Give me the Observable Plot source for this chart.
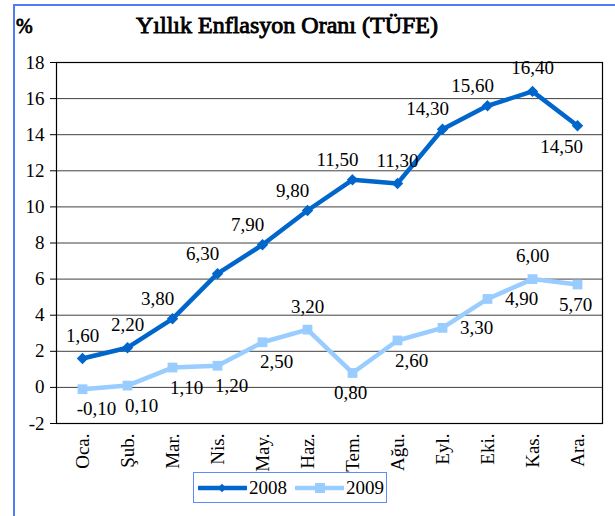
<!DOCTYPE html>
<html><head><meta charset="utf-8">
<script src="https://cdn.jsdelivr.net/npm/d3@7"></script>
<script src="https://cdn.jsdelivr.net/npm/@observablehq/plot@0.6"></script>
<style>
body{margin:0;background:#fff;}
#wrap{position:relative;width:615px;height:516px;overflow:hidden;font-family:"Liberation Serif",serif;color:#000;}
#border{position:absolute;left:13px;top:4px;width:800px;height:800px;border-left:2px solid #4d7df7;border-top:2px solid #4d7df7;}
#title{position:absolute;left:287px;top:13px;transform:translateX(-50%);font-family:"Liberation Serif",serif;font-weight:400;-webkit-text-stroke:0.9px #000;font-size:24px;line-height:24px;white-space:nowrap;}
#pct{position:absolute;left:16px;top:16px;font-family:"Liberation Serif",serif;font-weight:400;-webkit-text-stroke:0.8px #000;font-size:20px;line-height:20px;}
#chart{position:absolute;left:0;top:0;}
#legend{position:absolute;left:193px;top:472px;width:192px;height:29px;border:1px solid #5b8cff;box-sizing:content-box;display:flex;align-items:center;font-size:19px;}
#legend .item{display:flex;align-items:center;}
</style>
</head><body>
<div id="wrap">
  <div id="border"></div>
  <div id="chart"></div>
  <div id="pct">%</div>
  <div id="title">Yıllık Enflasyon Oranı (TÜFE)</div>
  <div id="legend"></div>
</div>
<script>
const months = ["Oca.","Şub.","Mar.","Nis.","May.","Haz.","Tem.","Ağu.","Eyl.","Eki.","Kas.","Ara."];
const values2008 = [1.60, 2.20, 3.80, 6.30, 7.90, 9.80, 11.50, 11.30, 14.30, 15.60, 16.40, 14.50];
const values2009 = [-0.10, 0.10, 1.10, 1.20, 2.50, 3.20, 0.80, 2.60, 3.30, 4.90, 6.00, 5.70];
const seriesNames = ["2008", "2009"];
const yTicks = [-2, 0, 2, 4, 6, 8, 10, 12, 14, 16, 18];
// label placement codes (relative to the point)
const labelPos2008 = ["N","N","NW","NW","NW","NW","NW","N","NW","NW","N","SW"];
const labelPos2009 = ["SE","SE","SE","SE","SE","N","S","SE","E","E","N","S"];

const colors = {"2008": "#0066CC", "2009": "#99CCFF"};
const offsets = {N:[0,-23], NW:[-15,-20], S:[-2,20], SW:[-16,21], SE:[14,20], E:[34,0]};

const rows = [];
months.forEach((m, i) => {
  rows.push({month: m, series: "2008", value: values2008[i], pos: labelPos2008[i]});
});
months.forEach((m, i) => {
  rows.push({month: m, series: "2009", value: values2009[i], pos: labelPos2009[i]});
});
const fmt = v => v.toFixed(2).replace(".", ",");

const labelMarks = Object.entries(offsets).map(([code, [dx, dy]]) =>
  Plot.text(rows.filter(r => r.pos === code), {
    x: "month", y: "value", text: d => fmt(d.value), dx, dy,
    fill: "#000", fontSize: 19
  })
);

const chart = Plot.plot({
  width: 615, height: 516,
  marginLeft: 56, marginRight: 13, marginTop: 62, marginBottom: 93,
  style: {fontFamily: '"Liberation Serif",serif', fontSize: "19px", background: "transparent", color: "#000"},
  x: {type: "point", domain: months, padding: 0.5, label: null},
  y: {domain: [-2, 18], label: null},
  marks: [
    Plot.gridY(yTicks, {stroke: "#000", strokeOpacity: 0.75}),
    Plot.frame({stroke: "#000", strokeWidth: 1.2}),
    Plot.axisY(yTicks, {tickSize: 6, tickPadding: 6, tickFormat: d => String(d), fontSize: 19, label: null}),
    Plot.axisX({tickRotate: -90, tickSize: 0, tickPadding: 10, fontSize: 19, label: null}),
    Plot.line(rows, {x: "month", y: "value", z: "series", stroke: d => colors[d.series], strokeWidth: 4.5}),
    Plot.dot(rows.filter(r => r.series === "2008"), {x: "month", y: "value", symbol: "diamond2", r: 4.2, fill: colors["2008"], stroke: colors["2008"]}),
    Plot.dot(rows.filter(r => r.series === "2009"), {x: "month", y: "value", symbol: "square", r: 5.5, fill: colors["2009"], stroke: "none"}),
    ...labelMarks
  ]
});
document.getElementById("chart").appendChild(chart);

// legend
const legend = document.getElementById("legend");
seriesNames.forEach((name, i) => {
  const item = document.createElement("div");
  item.className = "item";
  item.style.marginLeft = i === 0 ? "4px" : "8px";
  const sym = name === "2008"
    ? `<rect x="21" y="5" width="6" height="6" transform="rotate(45 24 8)" fill="${colors[name]}"/>`
    : `<rect x="20" y="3" width="10" height="10" fill="${colors[name]}"/>`;
  item.innerHTML = `<svg width="49" height="16"><line x1="1" x2="48" y1="8" y2="8" stroke="${colors[name]}" stroke-width="4.5" stroke-linecap="round"/>${sym}</svg><span style="margin-left:2px">${name}</span>`;
  legend.appendChild(item);
});
</script>
</body></html>
